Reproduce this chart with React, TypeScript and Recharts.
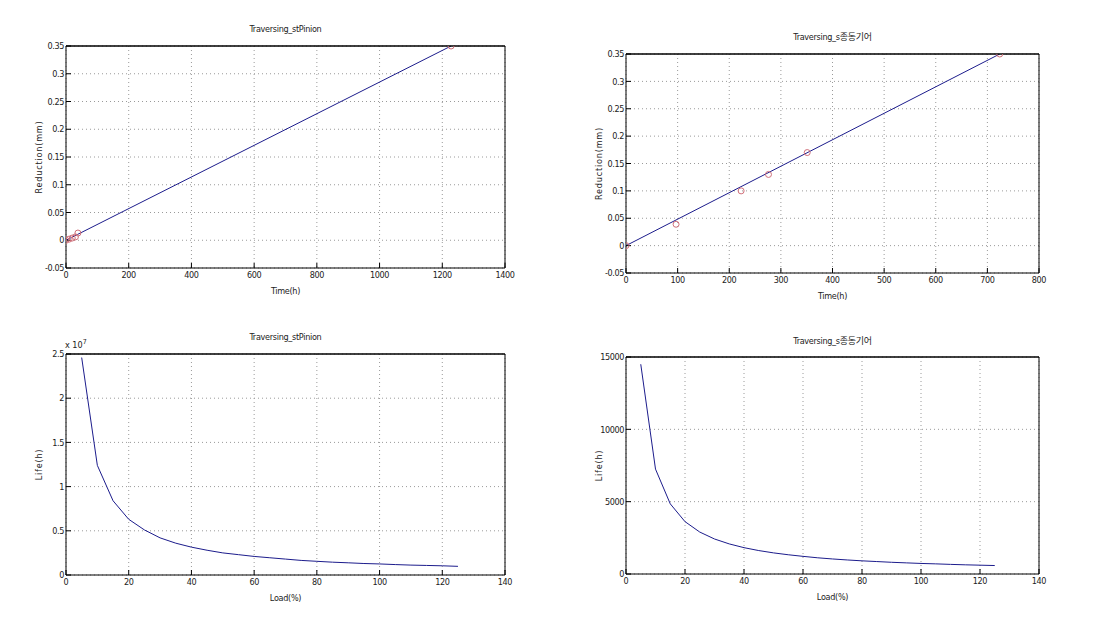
import { ComposedChart, Line, XAxis, YAxis, CartesianGrid } from 'recharts'

// Reduction over time, pinion (top-left)
const pinionPoints = [
  { x: 0, y: 0 },
  { x: 10, y: 0.002 },
  { x: 20, y: 0.004 },
  { x: 30, y: 0.006 },
  { x: 38, y: 0.013 },
  { x: 1228, y: 0.35 },
]
const pinionFit = [
  { x: 0, y: 0 },
  { x: 1228, y: 0.35 },
]

// Reduction over time, driven gear (top-right)
const gearPoints = [
  { x: 0, y: 0 },
  { x: 97, y: 0.039 },
  { x: 223, y: 0.1 },
  { x: 276, y: 0.13 },
  { x: 351, y: 0.17 },
  { x: 724, y: 0.35 },
]
const gearFit = [
  { x: 0, y: 0 },
  { x: 724, y: 0.35 },
]

// Life vs load
const loads = [5, 10, 15, 20, 25, 30, 35, 40, 45, 50, 55, 60, 65, 70, 75, 80, 85, 90, 95, 100, 105, 110, 115, 120, 125]
const pinionLife = [
  24600000, 12400000, 8400000, 6300000, 5100000, 4200000, 3600000, 3150000, 2800000, 2500000, 2300000, 2100000,
  1950000, 1800000, 1650000, 1550000, 1450000, 1380000, 1300000, 1250000, 1180000, 1120000, 1080000, 1040000, 980000,
]
const gearLife = [
  14500, 7250, 4850, 3620, 2900, 2420, 2080, 1820, 1620, 1460, 1330, 1220, 1120, 1040, 970, 910, 860, 810, 770,
  730, 700, 665, 635, 610, 585,
]

const timeTicksPinion = [0, 200, 400, 600, 800, 1000, 1200, 1400]
const timeTicksGear = [0, 100, 200, 300, 400, 500, 600, 700, 800]
const reductionTicks = [-0.05, 0, 0.05, 0.1, 0.15, 0.2, 0.25, 0.3, 0.35]
const loadTicks = [0, 20, 40, 60, 80, 100, 120, 140]
const pinionLifeTicks = [0, 5000000, 10000000, 15000000, 20000000, 25000000]
const gearLifeTicks = [0, 5000, 10000, 15000]

const pinionLifeData = loads.map((x, i) => ({ x, y: pinionLife[i] }))
const gearLifeData = loads.map((x, i) => ({ x, y: gearLife[i] }))

const FONT = "'Liberation Sans Narrow', 'DejaVu Sans Condensed', 'Noto Sans CJK KR', sans-serif"
const tickStyle = { fontSize: 9, fill: '#222', fontFamily: FONT, letterSpacing: -0.4 }

const fmt = (v: number) => String(Number(v.toFixed(2)))

interface PanelProps {
  x0: number
  y0: number
  x1: number
  y1: number
  title: string
  titleY: number
  xLabel: string
  yLabel: string
  xTicks: number[]
  yTicks: number[]
  yFmt: (v: number) => string
  line: { x: number; y: number }[]
  markers?: { x: number; y: number }[]
  exponent?: boolean
}

const Panel = (p: PanelProps) => {
  const plotW = p.x1 - p.x0
  const plotH = p.y1 - p.y0
  const W = plotW + 75
  const H = plotH + 40
  const xDom = [p.xTicks[0], p.xTicks[p.xTicks.length - 1]]
  const yDom = [p.yTicks[0], p.yTicks[p.yTicks.length - 1]]
  return (
    <>
      <div style={{
        position: 'absolute',
        left: p.x0,
        width: plotW,
        top: p.titleY - 6,
        textAlign: 'center',
        fontSize: 9,
        fontFamily: FONT,
        color: '#222',
        lineHeight: '12px',
        letterSpacing: -0.3
      }}>
        {p.title}
      </div>
      {p.exponent && (
        <div style={{
          position: 'absolute',
          left: p.x0 - 1,
          top: p.y0 - 16,
          fontSize: 9,
          fontFamily: FONT,
          color: '#222'
        }}>
          x 10<sup style={{ fontSize: 7 }}>7</sup>
        </div>
      )}
      <div style={{ position: 'absolute', left: p.x0 - 50, top: p.y0 - 10 }}>
        <ComposedChart width={W} height={H} margin={{ top: 9, right: 24, bottom: 4, left: 6 }}>
          <CartesianGrid xAxisId="b" yAxisId="l" stroke="#9a9a9a" strokeDasharray="1 3" />
          <XAxis
            xAxisId="b"
            dataKey="x"
            type="number"
            domain={xDom}
            ticks={p.xTicks}
            allowDataOverflow
            height={26}
            tickSize={-5}
            tickMargin={9}
            tick={tickStyle}
            axisLine={{ stroke: '#000' }}
            tickLine={{ stroke: '#000' }}
            label={{ value: p.xLabel, position: 'insideBottom', offset: 0, style: { fontSize: 9, fill: '#222', fontFamily: FONT, letterSpacing: -0.3 } }}
          />
          <XAxis
            xAxisId="t"
            orientation="top"
            dataKey="x"
            type="number"
            domain={xDom}
            ticks={p.xTicks}
            allowDataOverflow
            height={1}
            tickSize={-5}
            tick={false}
            axisLine={{ stroke: '#000', strokeWidth: 1.5 }}
            tickLine={{ stroke: '#000' }}
          />
          <YAxis
            yAxisId="l"
            type="number"
            domain={yDom}
            ticks={p.yTicks}
            allowDataOverflow
            width={44}
            tickSize={-5}
            tickMargin={7}
            tick={tickStyle}
            tickFormatter={p.yFmt}
            axisLine={{ stroke: '#000' }}
            tickLine={{ stroke: '#000' }}
            label={{ value: p.yLabel, angle: -90, position: 'insideLeft', offset: 17, style: { fontSize: 9, fill: '#222', fontFamily: FONT, textAnchor: 'middle', letterSpacing: 0.8 } }}
          />
          <YAxis
            yAxisId="r"
            orientation="right"
            type="number"
            domain={yDom}
            ticks={p.yTicks}
            allowDataOverflow
            width={1}
            tickSize={-5}
            tick={false}
            axisLine={{ stroke: '#000' }}
            tickLine={{ stroke: '#000' }}
          />
          <Line
            xAxisId="b"
            yAxisId="l"
            data={p.line}
            dataKey="y"
            stroke="#1c1c8c"
            strokeWidth={1}
            dot={false}
            isAnimationActive={false}
          />
          {p.markers && (
            <Line
              xAxisId="b"
              yAxisId="l"
              data={p.markers}
              dataKey="y"
              stroke="none"
              dot={{ r: 3, stroke: '#d0707a', strokeWidth: 1, fill: 'none' }}
              isAnimationActive={false}
            />
          )}
        </ComposedChart>
      </div>
    </>
  )
}

const App = () => {
  return (
    <div style={{ position: 'absolute', left: 0, top: 0, width: 1104, height: 643, background: '#fff' }}>
      <Panel
        x0={66} y0={46} x1={505} y1={268}
        title="Traversing_stPinion" titleY={29}
        xLabel="Time(h)" yLabel="Reduction(mm)"
        xTicks={timeTicksPinion} yTicks={reductionTicks} yFmt={fmt}
        line={pinionFit} markers={pinionPoints}
      />
      <Panel
        x0={626} y0={54} x1={1039} y1={273}
        title="Traversing_s종동기어" titleY={37}
        xLabel="Time(h)" yLabel="Reduction(mm)"
        xTicks={timeTicksGear} yTicks={reductionTicks} yFmt={fmt}
        line={gearFit} markers={gearPoints}
      />
      <Panel
        x0={66} y0={354} x1={505} y1={575}
        title="Traversing_stPinion" titleY={337}
        xLabel="Load(%)" yLabel="Life(h)"
        xTicks={loadTicks} yTicks={pinionLifeTicks} yFmt={(v: number) => fmt(v / 10000000)}
        line={pinionLifeData} exponent
      />
      <Panel
        x0={626} y0={357} x1={1039} y1={574}
        title="Traversing_s종동기어" titleY={341}
        xLabel="Load(%)" yLabel="Life(h)"
        xTicks={loadTicks} yTicks={gearLifeTicks} yFmt={(v: number) => String(v)}
        line={gearLifeData}
      />
    </div>
  )
}

export default App
